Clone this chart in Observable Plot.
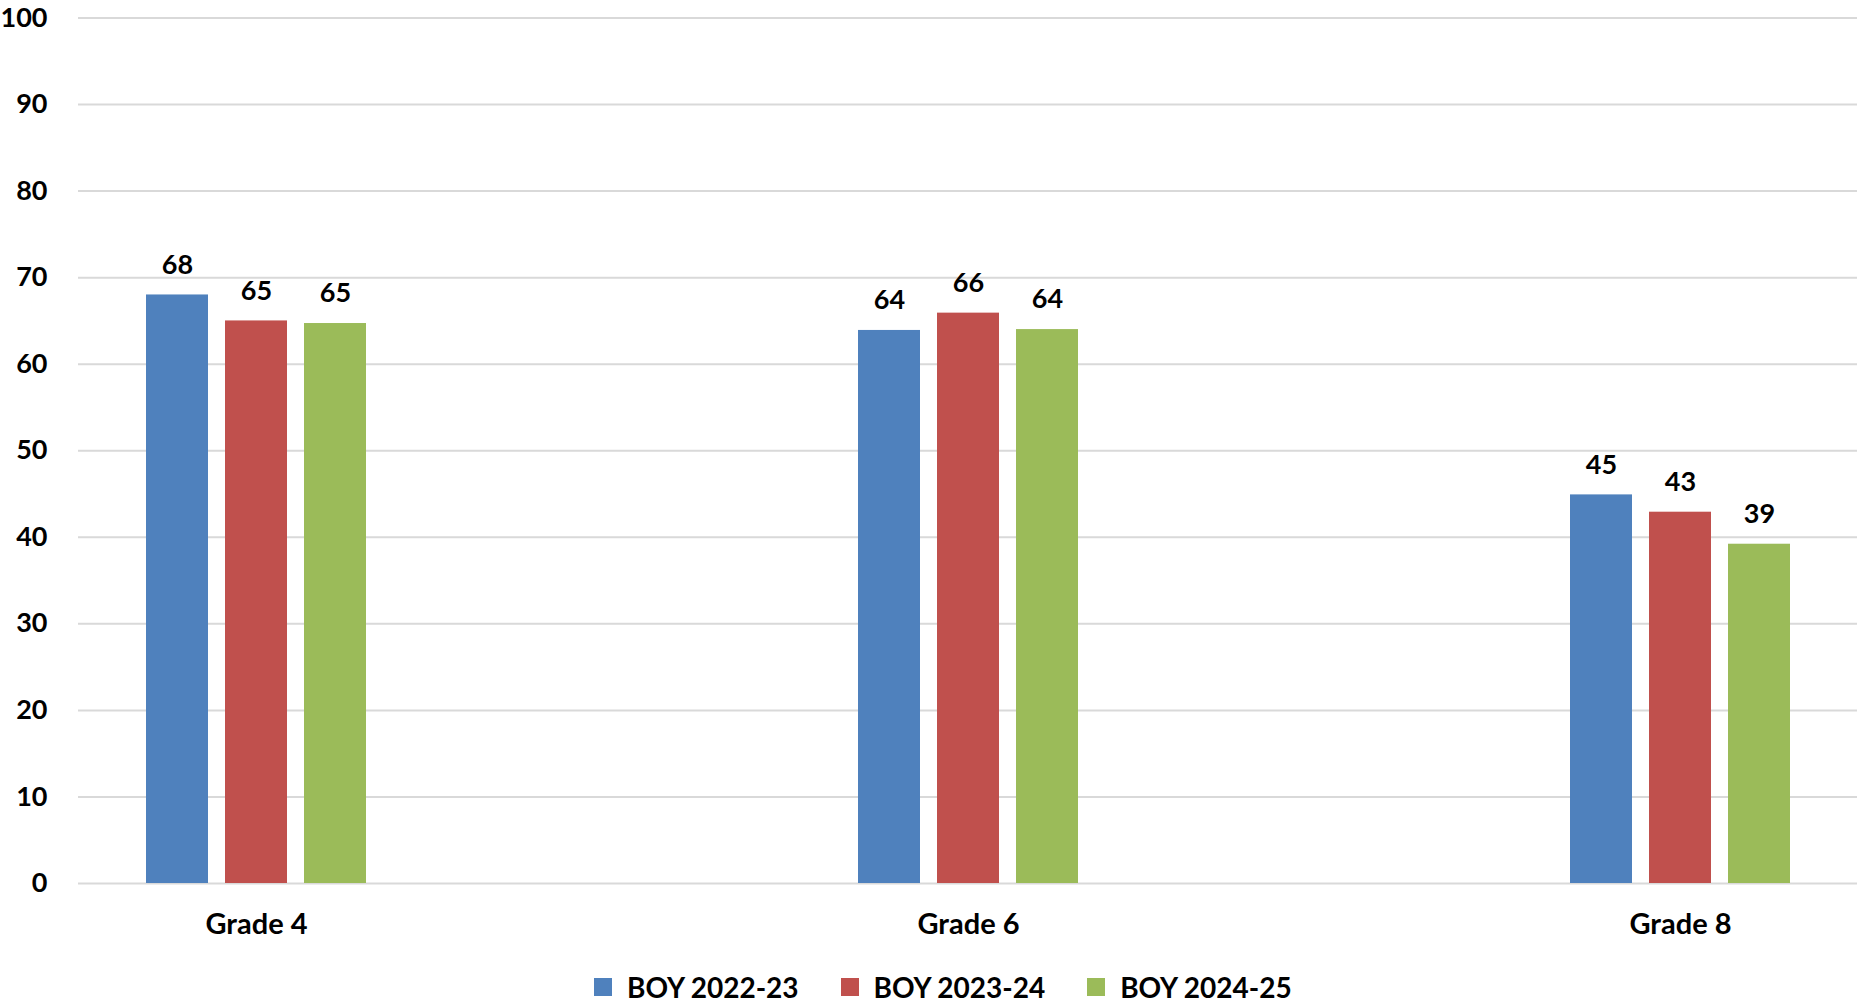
<!DOCTYPE html>
<html><head><meta charset="utf-8">
<script src="https://cdn.jsdelivr.net/npm/d3@7"></script>
<script src="https://cdn.jsdelivr.net/npm/@observablehq/plot@0.6"></script>
<style>
body{margin:0;background:#fff;font-family:Lato, sans-serif;}
#legend{position:relative;height:56px;width:1860px;}
#legend .row{position:absolute;left:594px;top:20px;height:34px;display:flex;align-items:center;font-weight:700;font-size:28px;line-height:34px;color:#000;}
.sw{width:18px;height:18px;margin-right:15px}
.item{display:flex;align-items:center;margin-right:42px}
</style></head><body>
<div id="chart"></div><div id="legend"><div class="row"></div></div>
<script>
const grades = ["Grade 4", "Grade 6", "Grade 8"];
const seriesNames = ["BOY 2022-23", "BOY 2023-24", "BOY 2024-25"];
const colors = ["#4F81BD", "#C0504D", "#9BBB59"];
const boy2022 = [68.0, 63.9, 44.9];
const boy2023 = [65.0, 65.9, 42.9];
const boy2024 = [64.7, 64.0, 39.2];
const yTicks = [0, 10, 20, 30, 40, 50, 60, 70, 80, 90, 100];

const seriesValues = [boy2022, boy2023, boy2024];
const rows = seriesValues.flatMap((vals, i) => vals.map((v, j) => ({grade: grades[j], series: seriesNames[i], value: v})));
const offsets = [-79, 0, 79];

const chart = Plot.plot({
  width: 1860, height: 950,
  marginTop: 17.5, marginBottom: 67, marginLeft: 78, marginRight: 3,
  style: {fontFamily: "Lato, sans-serif", fontWeight: 700, color: "#000", background: "#fff"},
  x: {domain: grades, range: [-100, 2036], padding: 0},
  y: {domain: [0, 100]},
  color: {domain: seriesNames, range: colors},
  marks: [
    Plot.ruleY(yTicks, {stroke: "#D9D9D9", strokeWidth: 2}),
    ...seriesNames.map((s, i) => Plot.barY(rows.filter(d => d.series === s), {
      x: "grade", y: "value", fill: "series", dx: offsets[i], insetLeft: 325, insetRight: 325
    })),
    ...seriesNames.map((s, i) => Plot.text(rows.filter(d => d.series === s), {
      x: "grade", y: "value", text: d => String(Math.round(d.value)), dx: offsets[i], dy: -30,
      fontSize: 27, fontWeight: 700, fill: "#000"
    })),
    Plot.axisY({ticks: yTicks, tickSize: 0, tickPadding: 31, fontSize: 27, label: null}),
    Plot.axisX({tickSize: 0, tickPadding: 30, fontSize: 29, label: null})
  ]
});
document.getElementById("chart").appendChild(chart);

const row = document.querySelector("#legend .row");
seriesNames.forEach((s, i) => {
  const item = document.createElement("div");
  item.className = "item";
  const sw = document.createElement("div");
  sw.className = "sw";
  sw.style.background = colors[i];
  const t = document.createElement("span");
  t.textContent = s;
  item.appendChild(sw); item.appendChild(t);
  row.appendChild(item);
});
</script>
</body></html>
